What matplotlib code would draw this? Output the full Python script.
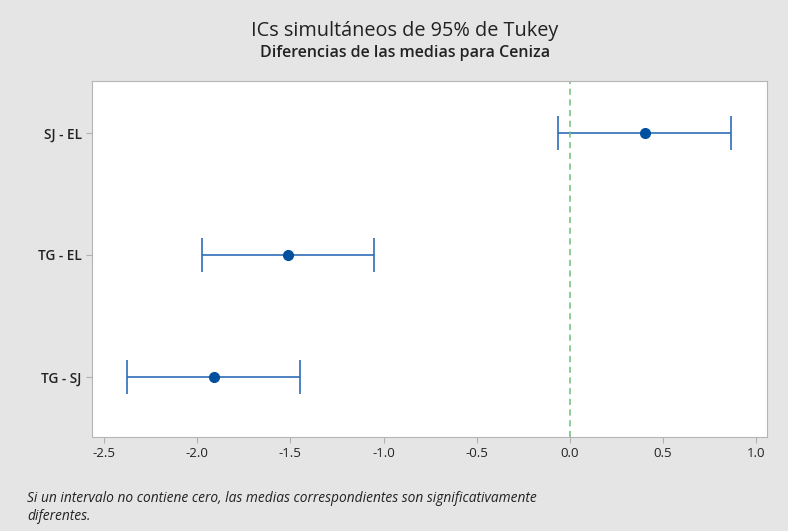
import matplotlib
matplotlib.use("Agg")
import matplotlib.pyplot as plt

# Tukey simultaneous 95% CIs for differences of means
pairs = ["SJ - EL", "TG - EL", "TG - SJ"]
diff = [0.400, -1.512, -1.912]
lower = [-0.062, -1.974, -2.374]
upper = [0.862, -1.050, -1.450]
xticks = [-2.5, -2.0, -1.5, -1.0, -0.5, 0.0, 0.5, 1.0]

plt.rcParams["font.family"] = ["Open Sans", "DejaVu Sans"]

fig = plt.figure(figsize=(7.88, 5.31), dpi=100, facecolor="#e5e5e5")
ax = fig.add_axes([92 / 788, 1 - 437 / 531, 675 / 788, 356 / 531])
ax.set_facecolor("white")

ypos = list(range(len(pairs), 0, -1))
err = [[d - lo for d, lo in zip(diff, lower)], [hi - d for d, hi in zip(diff, upper)]]
ax.errorbar(diff, ypos, xerr=err, fmt="none", ecolor="#2f6db5", elinewidth=1.2,
            capsize=12, capthick=1.2)
ax.plot(diff, ypos, "o", color="#0050a0", markersize=7, zorder=3)
ax.axvline(0, color="#6cbf7c", linestyle=(0, (4, 3)), linewidth=1.1)

ax.set_xlim(-2.564, 1.057)
ax.set_ylim(0.508, 3.426)
ax.set_xticks(xticks)
ax.set_xticklabels([f"{t:.1f}" for t in xticks], fontsize=9.5)
ax.set_yticks(ypos)
ax.set_yticklabels(pairs, fontsize=9.8, fontweight="semibold")
ax.tick_params(colors="#b0b0b0", labelcolor="#222222", length=4)
for s in ax.spines.values():
    s.set_color("#b5b5b5")

fig.text(405 / 788, 1 - 31 / 531, "ICs simultáneos de 95% de Tukey", ha="center",
         va="center", fontsize=14.3, color="#222222")
fig.text(405 / 788, 1 - 53 / 531, "Diferencias de las medias para Ceniza", ha="center",
         va="center", fontsize=11.5, color="#222222", fontweight="semibold")
fig.text(27 / 788, 1 - 498 / 531,
         "Si un intervalo no contiene cero, las medias correspondientes son significativamente",
         ha="left", va="center", fontsize=9.9, style="italic", color="#222222")
fig.text(27 / 788, 1 - 517 / 531, "diferentes.", ha="left", va="center", fontsize=9.9,
         style="italic", color="#222222")

fig.savefig("out.png", dpi=100, facecolor=fig.get_facecolor())
